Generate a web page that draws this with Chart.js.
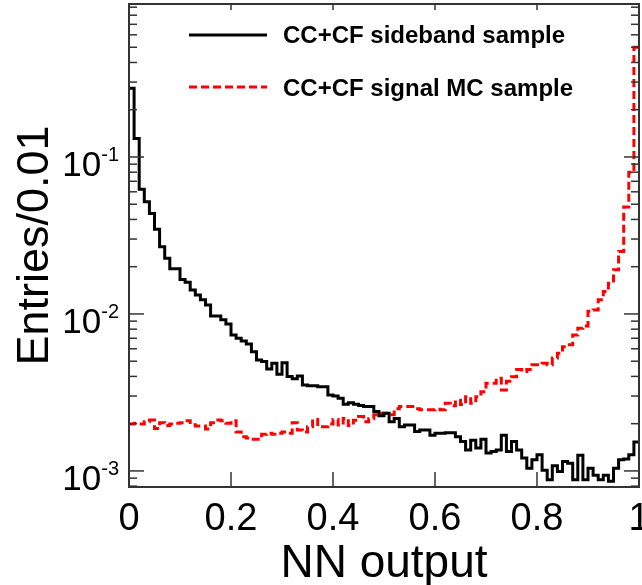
<!DOCTYPE html>
<html>
<head>
<title>NN output</title>
<script src="https://cdn.jsdelivr.net/npm/chart.js"></script>
<style>
  body { margin: 0; background: #fff; }
  #wrap { width: 642px; height: 585px; }
</style>
</head>
<body>
<div id="wrap"><canvas id="nnChart" width="642" height="585"></canvas></div>
<script>
// histogram, 100 bins of width 0.01 on NN output
var binWidth = 0.01;
var sidebandLabel = 'CC+CF sideband sample';
var signalLabel = 'CC+CF signal MC sample';

var sideband = [
  0.274, 0.131, 0.0622, 0.0519, 0.0437, 0.0346, 0.0268, 0.0226, 0.0194, 0.0194,
  0.0166, 0.0159, 0.0142, 0.0132, 0.0123, 0.0114, 0.0097, 0.0097, 0.0092, 0.00863,
  0.00735, 0.0070, 0.00673, 0.00644, 0.00575, 0.00509, 0.00497, 0.00446, 0.00485, 0.00413,
  0.00489, 0.00399, 0.00386, 0.00403, 0.00353, 0.00349, 0.00349, 0.00344, 0.00344, 0.00305,
  0.00300, 0.00290, 0.00266, 0.00272, 0.00266, 0.00261, 0.00257, 0.00257, 0.00239, 0.00225,
  0.00233, 0.00206, 0.00216, 0.00191, 0.00196, 0.00196, 0.00178, 0.00182, 0.00182, 0.00169,
  0.00174, 0.00174, 0.00175, 0.00175, 0.00165, 0.00154, 0.00136, 0.00157, 0.00140, 0.00159,
  0.00130, 0.00133, 0.00136, 0.00169, 0.00133, 0.00154, 0.00136, 0.00121, 0.00104, 0.00118,
  0.00127, 0.00101, 0.00088, 0.00108, 0.00099, 0.00115, 0.00112, 0.00088, 0.00126, 0.00088,
  0.00104, 0.00094, 0.00088, 0.00094, 0.00086, 0.00104, 0.00118, 0.00119, 0.00127, 0.00153
];

var signalMC = [
  0.00199, 0.00201, 0.00199, 0.00206, 0.00211, 0.00186, 0.00203, 0.00195, 0.00199, 0.00201,
  0.00203, 0.00209, 0.00197, 0.00193, 0.00193, 0.00185, 0.00203, 0.00211, 0.00209, 0.00201,
  0.00209, 0.00177, 0.00165, 0.00162, 0.00159, 0.00159, 0.00171, 0.00174, 0.00171, 0.00174,
  0.00177, 0.00174, 0.00203, 0.00182, 0.00177, 0.00191, 0.00213, 0.00191, 0.00191, 0.00199,
  0.00213, 0.00196, 0.00216, 0.00195, 0.00210, 0.00222, 0.00206, 0.00215, 0.00228, 0.00233,
  0.00233, 0.00228, 0.00249, 0.00257, 0.00257, 0.00257, 0.00249, 0.00245, 0.00245, 0.00245,
  0.00247, 0.00245, 0.00270, 0.00260, 0.00282, 0.00265, 0.00297, 0.00270, 0.00297, 0.00319,
  0.00362, 0.00362, 0.00390, 0.00328, 0.00372, 0.00398, 0.00442, 0.00430, 0.00442, 0.00474,
  0.00474, 0.00485, 0.00474, 0.00524, 0.00561, 0.00618, 0.00636, 0.00735, 0.00812, 0.00839,
  0.0104, 0.0106, 0.0123, 0.0139, 0.0157, 0.0191, 0.0250, 0.048, 0.080, 0.50
];

var xTicks = [0, 0.2, 0.4, 0.6, 0.8, 1];
var xTickLabels = ['0', '0.2', '0.4', '0.6', '0.8', '1'];
var yDecades = [-3, -2, -1];
var yMin = 0.00079, yMax = 0.943;

var FONT = '"Liberation Sans", Arial, Helvetica, sans-serif';

// points at bin left edges, plus closing point at the right edge
function toSteps(vals) {
  var pts = vals.map(function (v, i) { return { x: i * binWidth, y: v }; });
  pts.push({ x: vals.length * binWidth, y: vals[vals.length - 1] });
  return pts;
}

function line(ctx, x1, y1, x2, y2) {
  ctx.beginPath(); ctx.moveTo(x1, y1); ctx.lineTo(x2, y2); ctx.stroke();
}

var framePlugin = {
  id: 'frame',
  afterDraw: function (chart) {
    var ctx = chart.ctx, a = chart.chartArea;
    var xs = chart.scales.x, ys = chart.scales.y;
    ctx.save();

    // frame
    ctx.strokeStyle = '#333';
    ctx.lineWidth = 2;
    ctx.strokeRect(a.left, a.top, a.right - a.left, a.bottom - a.top);

    // x ticks, inward
    ctx.lineWidth = 1.5;
    xTicks.forEach(function (v) {
      var px = xs.getPixelForValue(v);
      line(ctx, px, a.bottom, px, a.bottom - 15);
      line(ctx, px, a.top, px, a.top + 6);
    });

    // y ticks, log major + minor, both sides
    for (var d = -4; d <= 0; d++) {
      for (var m = 1; m <= 9; m++) {
        var v = m * Math.pow(10, d);
        if (v < ys.min || v > ys.max) continue;
        var py = ys.getPixelForValue(v);
        var len = m === 1 ? 15 : 8;
        line(ctx, a.left, py, a.left + len, py);
        line(ctx, a.right, py, a.right - len, py);
      }
    }

    ctx.fillStyle = '#000';

    // x tick labels
    ctx.font = '38px ' + FONT;
    ctx.textAlign = 'center';
    ctx.textBaseline = 'alphabetic';
    xTicks.forEach(function (v, i) {
      ctx.fillText(xTickLabels[i], xs.getPixelForValue(v), 530);
    });

    // y tick labels 10^d
    ctx.textAlign = 'left';
    yDecades.forEach(function (d) {
      var py = ys.getPixelForValue(Math.pow(10, d));
      var sup = String(d);
      ctx.font = '20px ' + FONT;
      var supW = ctx.measureText(sup).width;
      ctx.font = '35px ' + FONT;
      var mainW = ctx.measureText('10').width;
      var right = a.left - 10;
      ctx.fillText('10', right - supW - mainW, py + 19);
      ctx.font = '20px ' + FONT;
      ctx.fillText(sup, right - supW, py + 4);
    });

    // axis titles
    ctx.font = '46px ' + FONT;
    ctx.textAlign = 'center';
    ctx.fillText('NN output', (a.left + a.right) / 2, 577);
    ctx.save();
    ctx.translate(48, (a.top + a.bottom) / 2);
    ctx.rotate(-Math.PI / 2);
    ctx.font = '45px ' + FONT;
    ctx.fillText('Entries/0.01', 0, 0);
    ctx.restore();

    // legend
    ctx.lineWidth = 3;
    ctx.strokeStyle = '#000';
    line(ctx, 189, 35, 267, 35);
    ctx.strokeStyle = '#ff0000';
    ctx.setLineDash([8, 4]);
    line(ctx, 189, 87, 267, 87);
    ctx.setLineDash([]);
    ctx.font = 'bold 24px ' + FONT;
    ctx.textAlign = 'left';
    ctx.fillText(sidebandLabel, 283, 43);
    ctx.fillText(signalLabel, 283, 96);

    ctx.restore();
  }
};

var chart = new Chart(document.getElementById('nnChart').getContext('2d'), {
  type: 'line',
  data: {
    datasets: [{
      label: sidebandLabel,
      data: toSteps(sideband),
      borderColor: '#000',
      borderWidth: 3,
      stepped: 'before',
      pointRadius: 0,
      fill: false,
      order: 0
    }, {
      label: signalLabel,
      data: toSteps(signalMC),
      borderColor: '#ff0000',
      borderWidth: 3,
      borderDash: [8, 4],
      stepped: 'before',
      pointRadius: 0,
      fill: false,
      order: 1
    }]
  },
  options: {
    responsive: false,
    animation: false,
    layout: { padding: { top: 4, right: 3, left: 0, bottom: 0 } },
    plugins: { legend: { display: false }, tooltip: { enabled: false } },
    scales: {
      x: {
        type: 'linear', min: 0, max: 1,
        grid: { display: false }, border: { display: false },
        ticks: { display: false },
        afterFit: function (s) { s.height = 98; }
      },
      y: {
        type: 'logarithmic', min: yMin, max: yMax,
        grid: { display: false }, border: { display: false },
        ticks: { display: false },
        afterFit: function (s) { s.width = 129; }
      }
    }
  },
  plugins: [framePlugin]
});
</script>
</body>
</html>
